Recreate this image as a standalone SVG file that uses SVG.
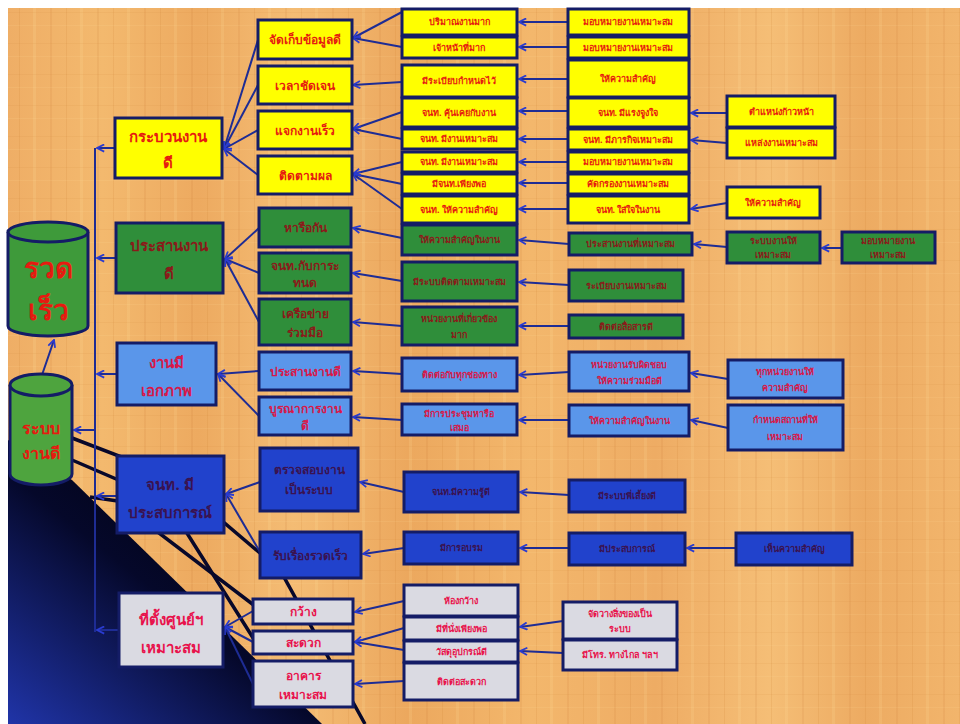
<svg xmlns="http://www.w3.org/2000/svg" width="960" height="724" viewBox="0 0 960 724">
<defs>
<linearGradient id="paper" x1="0" y1="0" x2="1" y2="0">
<stop offset="0" stop-color="#EFAE66"/><stop offset="0.1" stop-color="#F3B96E"/><stop offset="0.2" stop-color="#EDAA60"/><stop offset="0.3" stop-color="#F4BC74"/><stop offset="0.42" stop-color="#ECA85E"/><stop offset="0.55" stop-color="#F3B76C"/><stop offset="0.68" stop-color="#EEAC64"/><stop offset="0.8" stop-color="#F5BE76"/><stop offset="0.9" stop-color="#EDAB62"/><stop offset="1" stop-color="#F2B56C"/>
</linearGradient>
<pattern id="tex" width="47" height="31" patternUnits="userSpaceOnUse">
<rect x="3" y="0" width="2" height="31" fill="#C8782E" opacity="0.12"/>
<rect x="19" y="0" width="1" height="31" fill="#C8782E" opacity="0.14"/>
<rect x="33" y="0" width="3" height="31" fill="#FFE0A0" opacity="0.15"/>
<rect x="0" y="12" width="47" height="1" fill="#C8782E" opacity="0.09"/>
<rect x="0" y="25" width="47" height="1" fill="#FFE0A0" opacity="0.12"/>
</pattern>
<linearGradient id="dark" x1="0.8" y1="0.1" x2="0" y2="1">
<stop offset="0" stop-color="#000008"/><stop offset="0.45" stop-color="#05082A"/><stop offset="1" stop-color="#2034A8"/>
</linearGradient>
<marker id="ar" viewBox="0 0 10 10" refX="9" refY="5" markerWidth="9" markerHeight="9" markerUnits="userSpaceOnUse" orient="auto">
<path d="M1,1 L9,5 L1,9" fill="none" stroke="#2A3BD0" stroke-width="2"/>
</marker>
<style>
.bx{stroke:#141C66;stroke-width:3}
.y{fill:#FFFF00}.g{fill:#2F8E3A}.lb{fill:#5A96EA}.db{fill:#2142CC}.gr{fill:#DADAE2}
text{font-family:"Noto Sans","DejaVu Sans",sans-serif;font-weight:bold;text-anchor:middle}
.t1{font-size:15px}.t2{font-size:12px}.t3{font-size:9px}
.cy{fill:#E61A10}.cg{fill:#8A1A1A}.cb{fill:#D81848}.cd{fill:#3A1250}.cr{fill:#E8124C}
.cn path,.cn line{stroke:#1E2C94;stroke-width:2;fill:none}
.ar{marker-end:url(#ar)}
.bk{stroke:#08082A;stroke-width:3.5;fill:none}
</style>
</defs>
<rect width="960" height="724" fill="#FFFFFF"/>
<rect x="8" y="8" width="952" height="716" fill="url(#paper)"/>
<rect x="8" y="8" width="952" height="716" fill="url(#tex)"/>
<polygon points="8,440 72,480 322,724 8,724" fill="url(#dark)"/>

<g id="black-lines">
<path class="bk" d="M72,438 L140,464 L155,530 L255,606"/>
<path class="bk" d="M72,460 L130,485 L185,530 L255,641"/>
<path class="bk" d="M90,497 L215,515 L280,570 L365,724"/>
</g>

<g id="connectors" class="cn">
<line x1="95" y1="148" x2="95" y2="632"/>
<path class="ar" d="M115,148 H97"/>
<path class="ar" d="M116,258 H97"/>
<path class="ar" d="M117,374 H97"/>
<path class="ar" d="M117,496 H97"/>
<path class="ar" d="M119,630 H97"/>
<path class="ar" d="M95,430 H74"/>
<path class="ar" d="M42,375 L54,340"/>
<path class="ar" d="M258,40 L224,149"/>
<path class="ar" d="M258,85 L224,149"/>
<path class="ar" d="M258,130 L224,149"/>
<path class="ar" d="M258,175 L224,149"/>
<path class="ar" d="M259,228 L225,259"/>
<path class="ar" d="M259,273 L225,259"/>
<path class="ar" d="M259,322 L225,259"/>
<path class="ar" d="M259,371 L218,374"/>
<path class="ar" d="M259,416 L218,374"/>
<path class="ar" d="M260,482 L226,494"/>
<path class="ar" d="M260,552 L226,494"/>
<path class="ar" d="M253,611 L225,627"/>
<path class="ar" d="M253,642 L225,627"/>
<path class="ar" d="M253,684 L225,627"/>
<path class="ar" d="M402,12 L353,38"/>
<path class="ar" d="M402,47 L353,38"/>
<path class="ar" d="M402,82 L353,85"/>
<path class="ar" d="M402,112 L353,129"/>
<path class="ar" d="M402,139 L353,129"/>
<path class="ar" d="M402,162 L353,174"/>
<path class="ar" d="M402,184 L353,174"/>
<path class="ar" d="M402,209 L353,174"/>
<path class="ar" d="M402,238 L353,228"/>
<path class="ar" d="M402,281 L353,273"/>
<path class="ar" d="M402,326 L353,322"/>
<path class="ar" d="M402,374 L353,371"/>
<path class="ar" d="M402,420 L353,417"/>
<path class="ar" d="M404,492 L360,482"/>
<path class="ar" d="M404,548 L363,554"/>
<path class="ar" d="M404,601 L355,612"/>
<path class="ar" d="M404,628 L355,642"/>
<path class="ar" d="M404,650 L355,642"/>
<path class="ar" d="M404,681 L355,684"/>
<path class="ar" d="M568,22 H519"/>
<path class="ar" d="M568,47 H519"/>
<path class="ar" d="M568,79 H519"/>
<path class="ar" d="M568,111 H519"/>
<path class="ar" d="M568,139 H519"/>
<path class="ar" d="M568,162 H519"/>
<path class="ar" d="M568,183 H519"/>
<path class="ar" d="M568,209 H519"/>
<path class="ar" d="M569,244 L519,240"/>
<path class="ar" d="M569,285 L519,282"/>
<path class="ar" d="M569,326 H519"/>
<path class="ar" d="M569,372 L519,375"/>
<path class="ar" d="M569,420 H519"/>
<path class="ar" d="M569,495 L520,492"/>
<path class="ar" d="M569,548 H520"/>
<path class="ar" d="M563,621 L520,627"/>
<path class="ar" d="M563,653 L520,651"/>
<path class="ar" d="M727,113 H691"/>
<path class="ar" d="M727,143 L691,140"/>
<path class="ar" d="M727,203 L691,209"/>
<path class="ar" d="M727,247 L694,244"/>
<path class="ar" d="M842,248 H822"/>
<path class="ar" d="M728,379 L691,373"/>
<path class="ar" d="M728,428 L691,420"/>
<path class="ar" d="M736,548 H687"/>
</g>

<g id="cyl-fast">
<path d="M8,232 V326 A40,10 0 0 0 88,326 V232" fill="#3E9A3A" stroke="#141C66" stroke-width="3"/>
<ellipse cx="48" cy="232" rx="40" ry="10" fill="#3E9A3A" stroke="#141C66" stroke-width="3"/>
<text x="48" y="278" class="cy" style="font-size:28px">รวด</text>
<text x="48" y="320" class="cy" style="font-size:28px">เร็ว</text>
</g>
<g id="cyl-good">
<path d="M10,385 V474 A31,11 0 0 0 72,474 V385" fill="#4EA43E" stroke="#141C66" stroke-width="3"/>
<ellipse cx="41" cy="385" rx="31" ry="11" fill="#4EA43E" stroke="#141C66" stroke-width="3"/>
<text x="41" y="434" class="cy" style="font-size:16px">ระบบ</text>
<text x="41" y="459" class="cy" style="font-size:16px">งานดี</text>
</g>

<g id="n-process"><rect class="bx y" x="115" y="118" width="107" height="60"/><text class="t1 cy" x="168" y="142">กระบวนงาน</text><text class="t1 cy" x="168" y="168">ดี</text></g>
<g id="n-coord"><rect class="bx g" x="116" y="223" width="107" height="70"/><text class="t1 cg" x="169" y="251">ประสานงาน</text><text class="t1 cg" x="169" y="279">ดี</text></g>
<g id="n-unity"><rect class="bx lb" x="117" y="343" width="99" height="62"/><text class="t1 cb" x="166" y="368">งานมี</text><text class="t1 cb" x="166" y="396">เอกภาพ</text></g>
<g id="n-staff"><rect class="bx db" x="117" y="456" width="107" height="77"/><text class="t1 cd" x="170" y="490">จนท. มี</text><text class="t1 cd" x="170" y="518">ประสบการณ์</text></g>
<g id="n-site"><rect class="bx gr" x="119" y="593" width="104" height="74"/><text class="t1 cr" x="171" y="625">ที่ตั้งศูนย์ฯ</text><text class="t1 cr" x="171" y="653">เหมาะสม</text></g>

<g id="n2-1"><rect class="bx y" x="258" y="20" width="94" height="39"/><text class="t2 cy" x="305" y="44">จัดเก็บข้อมูลดี</text></g>
<g id="n2-2"><rect class="bx y" x="258" y="66" width="94" height="38"/><text class="t2 cy" x="305" y="90">เวลาชัดเจน</text></g>
<g id="n2-3"><rect class="bx y" x="258" y="111" width="94" height="38"/><text class="t2 cy" x="305" y="135">แจกงานเร็ว</text></g>
<g id="n2-4"><rect class="bx y" x="258" y="156" width="94" height="38"/><text class="t2 cy" x="305" y="180">ติดตามผล</text></g>
<g id="n2-5"><rect class="bx g" x="259" y="208" width="92" height="39"/><text class="t2 cg" x="305" y="232">หารือกัน</text></g>
<g id="n2-6"><rect class="bx g" x="259" y="253" width="92" height="40"/><text class="t2 cg" x="305" y="270">จนท.กับการะ</text><text class="t2 cg" x="305" y="287">ทนด</text></g>
<g id="n2-7"><rect class="bx g" x="259" y="299" width="92" height="46"/><text class="t2 cg" x="305" y="318">เครือข่าย</text><text class="t2 cg" x="305" y="337">ร่วมมือ</text></g>
<g id="n2-8"><rect class="bx lb" x="259" y="352" width="92" height="38"/><text class="t2 cb" x="305" y="376">ประสานงานดี</text></g>
<g id="n2-9"><rect class="bx lb" x="259" y="397" width="92" height="38"/><text class="t2 cb" x="305" y="413">บูรณาการงาน</text><text class="t2 cb" x="305" y="430">ดี</text></g>
<g id="n2-10"><rect class="bx db" x="260" y="448" width="98" height="63"/><text class="t2 cd" x="309" y="474">ตรวจสอบงาน</text><text class="t2 cd" x="309" y="494">เป็นระบบ</text></g>
<g id="n2-11"><rect class="bx db" x="260" y="532" width="101" height="46"/><text class="t2 cd" x="310" y="560">รับเรื่องรวดเร็ว</text></g>
<g id="n2-12"><rect class="bx gr" x="253" y="599" width="100" height="25"/><text class="t2 cr" x="303" y="616">กว้าง</text></g>
<g id="n2-13"><rect class="bx gr" x="253" y="631" width="100" height="23"/><text class="t2 cr" x="303" y="647">สะดวก</text></g>
<g id="n2-14"><rect class="bx gr" x="253" y="661" width="100" height="46"/><text class="t2 cr" x="303" y="680">อาคาร</text><text class="t2 cr" x="303" y="699">เหมาะสม</text></g>

<g id="n3-1"><rect class="bx y" x="402" y="9" width="115" height="26"/><text class="t3 cy" x="459" y="25">ปริมาณงานมาก</text></g>
<g id="n3-2"><rect class="bx y" x="402" y="37" width="115" height="21"/><text class="t3 cy" x="459" y="51">เจ้าหน้าที่มาก</text></g>
<g id="n3-3"><rect class="bx y" x="402" y="65" width="115" height="32"/><text class="t3 cy" x="459" y="84">มีระเบียบกำหนดไว้</text></g>
<g id="n3-4"><rect class="bx y" x="402" y="98" width="115" height="29"/><text class="t3 cy" x="459" y="116">จนท. คุ้นเคยกับงาน</text></g>
<g id="n3-5"><rect class="bx y" x="402" y="129" width="115" height="20"/><text class="t3 cy" x="459" y="142">จนท. มีงานเหมาะสม</text></g>
<g id="n3-6"><rect class="bx y" x="402" y="152" width="115" height="20"/><text class="t3 cy" x="459" y="165">จนท. มีงานเหมาะสม</text></g>
<g id="n3-7"><rect class="bx y" x="402" y="174" width="115" height="20"/><text class="t3 cy" x="459" y="187">มีจนท.เพียงพอ</text></g>
<g id="n3-8"><rect class="bx y" x="402" y="196" width="115" height="27"/><text class="t3 cy" x="459" y="213">จนท. ให้ความสำคัญ</text></g>
<g id="n3-9"><rect class="bx g" x="402" y="225" width="115" height="30"/><text class="t3 cg" x="459" y="243">ให้ความสำคัญในงาน</text></g>
<g id="n3-10"><rect class="bx g" x="402" y="262" width="115" height="39"/><text class="t3 cg" x="459" y="285">มีระบบติดตามเหมาะสม</text></g>
<g id="n3-11"><rect class="bx g" x="402" y="307" width="115" height="38"/><text class="t3 cg" x="459" y="322">หน่วยงานที่เกี่ยวข้อง</text><text class="t3 cg" x="459" y="338">มาก</text></g>
<g id="n3-12"><rect class="bx lb" x="402" y="358" width="115" height="33"/><text class="t3 cb" x="459" y="378">ติดต่อกับทุกช่องทาง</text></g>
<g id="n3-13"><rect class="bx lb" x="402" y="404" width="115" height="31"/><text class="t3 cb" x="459" y="417">มีการประชุมหารือ</text><text class="t3 cb" x="459" y="431">เสมอ</text></g>
<g id="n3-14"><rect class="bx db" x="404" y="472" width="114" height="40"/><text class="t3 cd" x="461" y="495">จนท.มีความรู้ดี</text></g>
<g id="n3-15"><rect class="bx db" x="404" y="532" width="114" height="32"/><text class="t3 cd" x="461" y="551">มีการอบรม</text></g>
<g id="n3-16"><rect class="bx gr" x="404" y="585" width="114" height="31"/><text class="t3 cr" x="461" y="604">ห้องกว้าง</text></g>
<g id="n3-17"><rect class="bx gr" x="404" y="617" width="114" height="23"/><text class="t3 cr" x="461" y="632">มีที่นั่งเพียงพอ</text></g>
<g id="n3-18"><rect class="bx gr" x="404" y="641" width="114" height="21"/><text class="t3 cr" x="461" y="655">วัสดุอุปกรณ์ดี</text></g>
<g id="n3-19"><rect class="bx gr" x="404" y="663" width="114" height="37"/><text class="t3 cr" x="461" y="685">ติดต่อสะดวก</text></g>

<g id="n4-1"><rect class="bx y" x="568" y="9" width="121" height="26"/><text class="t3 cy" x="628" y="25">มอบหมายงานเหมาะสม</text></g>
<g id="n4-2"><rect class="bx y" x="568" y="37" width="121" height="21"/><text class="t3 cy" x="628" y="51">มอบหมายงานเหมาะสม</text></g>
<g id="n4-3"><rect class="bx y" x="568" y="60" width="121" height="37"/><text class="t3 cy" x="628" y="82">ให้ความสำคัญ</text></g>
<g id="n4-4"><rect class="bx y" x="568" y="98" width="121" height="29"/><text class="t3 cy" x="628" y="116">จนท. มีแรงจูงใจ</text></g>
<g id="n4-5"><rect class="bx y" x="568" y="129" width="121" height="21"/><text class="t3 cy" x="628" y="143">จนท. มีภารกิจเหมาะสม</text></g>
<g id="n4-6"><rect class="bx y" x="568" y="152" width="121" height="20"/><text class="t3 cy" x="628" y="165">มอบหมายงานเหมาะสม</text></g>
<g id="n4-7"><rect class="bx y" x="568" y="174" width="121" height="20"/><text class="t3 cy" x="628" y="187">คัดกรองงานเหมาะสม</text></g>
<g id="n4-8"><rect class="bx y" x="568" y="196" width="121" height="27"/><text class="t3 cy" x="628" y="213">จนท. ใส่ใจในงาน</text></g>
<g id="n4-9"><rect class="bx g" x="569" y="233" width="123" height="22"/><text class="t3 cg" x="630" y="247">ประสานงานที่เหมาะสม</text></g>
<g id="n4-10"><rect class="bx g" x="569" y="270" width="114" height="31"/><text class="t3 cg" x="626" y="289">ระเบียบงานเหมาะสม</text></g>
<g id="n4-11"><rect class="bx g" x="569" y="315" width="114" height="23"/><text class="t3 cg" x="626" y="330">ติดต่อสื่อสารดี</text></g>
<g id="n4-12"><rect class="bx lb" x="569" y="352" width="120" height="39"/><text class="t3 cb" x="629" y="368">หน่วยงานรับผิดชอบ</text><text class="t3 cb" x="629" y="384">ให้ความร่วมมือดี</text></g>
<g id="n4-13"><rect class="bx lb" x="569" y="405" width="120" height="31"/><text class="t3 cb" x="629" y="424">ให้ความสำคัญในงาน</text></g>
<g id="n4-14"><rect class="bx db" x="569" y="480" width="116" height="32"/><text class="t3 cd" x="627" y="499">มีระบบพี่เลี้ยงดี</text></g>
<g id="n4-15"><rect class="bx db" x="569" y="533" width="116" height="32"/><text class="t3 cd" x="627" y="552">มีประสบการณ์</text></g>
<g id="n4-16"><rect class="bx gr" x="563" y="602" width="114" height="37"/><text class="t3 cr" x="620" y="617">จัดวางสิ่งของเป็น</text><text class="t3 cr" x="620" y="632">ระบบ</text></g>
<g id="n4-17"><rect class="bx gr" x="563" y="640" width="114" height="30"/><text class="t3 cr" x="620" y="658">มีโทร. ทางไกล ฯลฯ</text></g>

<g id="n5-1"><rect class="bx y" x="727" y="96" width="108" height="31"/><text class="t3 cy" x="781" y="115">ตำแหน่งก้าวหน้า</text></g>
<g id="n5-2"><rect class="bx y" x="727" y="128" width="108" height="30"/><text class="t3 cy" x="781" y="146">แหล่งงานเหมาะสม</text></g>
<g id="n5-3"><rect class="bx y" x="727" y="187" width="93" height="31"/><text class="t3 cy" x="773" y="206">ให้ความสำคัญ</text></g>
<g id="n5-4"><rect class="bx g" x="727" y="232" width="93" height="31"/><text class="t3 cg" x="773" y="244">ระบบงานให้</text><text class="t3 cg" x="773" y="258">เหมาะสม</text></g>
<g id="n5-5"><rect class="bx g" x="842" y="232" width="93" height="31"/><text class="t3 cg" x="888" y="244">มอบหมายงาน</text><text class="t3 cg" x="888" y="258">เหมาะสม</text></g>
<g id="n5-6"><rect class="bx lb" x="728" y="360" width="115" height="38"/><text class="t3 cb" x="785" y="375">ทุกหน่วยงานให้</text><text class="t3 cb" x="785" y="391">ความสำคัญ</text></g>
<g id="n5-7"><rect class="bx lb" x="728" y="405" width="115" height="45"/><text class="t3 cb" x="785" y="423">กำหนดสถานที่ให้</text><text class="t3 cb" x="785" y="440">เหมาะสม</text></g>
<g id="n5-8"><rect class="bx db" x="736" y="533" width="116" height="32"/><text class="t3 cd" x="794" y="552">เห็นความสำคัญ</text></g>
</svg>
